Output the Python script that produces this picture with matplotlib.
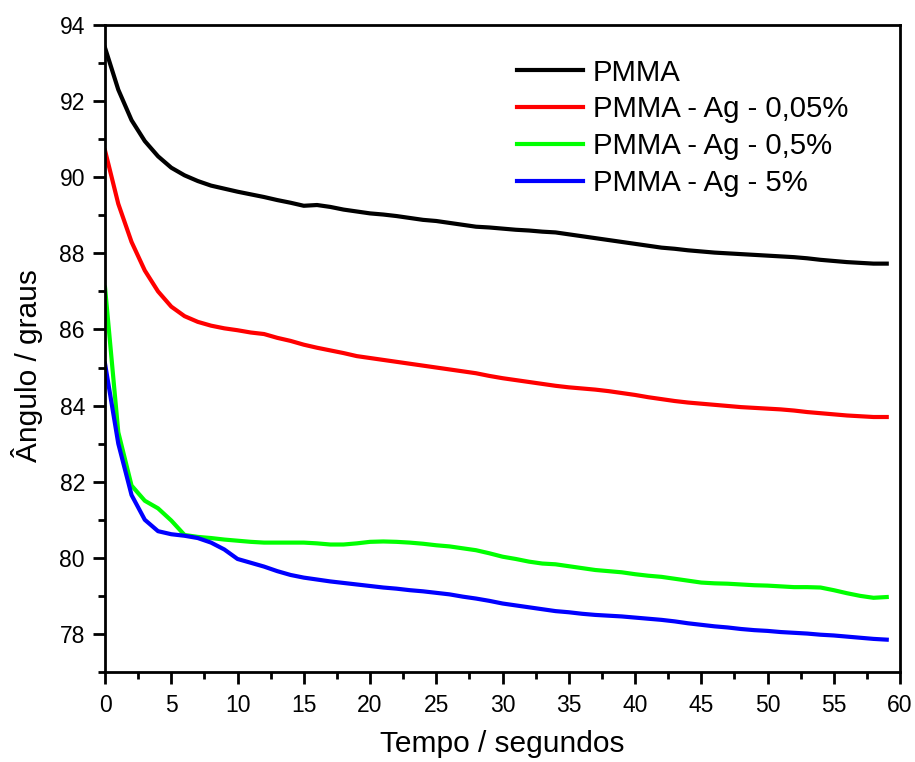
import matplotlib
matplotlib.use("Agg")
import matplotlib.pyplot as plt
from matplotlib.ticker import MultipleLocator
import numpy as np

plt.rcParams['font.family'] = ['Liberation Sans', 'DejaVu Sans']

tempo = np.arange(0, 60)

pmma = [93.4, 92.3, 91.5, 90.95, 90.55, 90.25, 90.05, 89.9, 89.78, 89.7,
        89.62, 89.55, 89.48, 89.4, 89.33, 89.25, 89.27, 89.22, 89.15, 89.1,
        89.05, 89.02, 88.98, 88.93, 88.88, 88.85, 88.8, 88.75, 88.7, 88.68,
        88.65, 88.62, 88.6, 88.57, 88.55, 88.5, 88.45, 88.4, 88.35, 88.3,
        88.25, 88.2, 88.15, 88.12, 88.08, 88.05, 88.02, 88.0, 87.98, 87.96,
        87.94, 87.92, 87.9, 87.87, 87.83, 87.8, 87.77, 87.75, 87.73, 87.73]

ag_005 = [90.7, 89.3, 88.3, 87.55, 87.0, 86.6, 86.35, 86.2, 86.1, 86.03,
          85.98, 85.92, 85.88, 85.78, 85.7, 85.6, 85.52, 85.45, 85.38, 85.3,
          85.25, 85.2, 85.15, 85.1, 85.05, 85.0, 84.95, 84.9, 84.85, 84.78,
          84.72, 84.67, 84.62, 84.57, 84.52, 84.48, 84.45, 84.42, 84.38, 84.33,
          84.28, 84.22, 84.17, 84.12, 84.08, 84.05, 84.02, 83.99, 83.96, 83.94,
          83.92, 83.9, 83.87, 83.83, 83.8, 83.77, 83.74, 83.72, 83.7, 83.7]

ag_05 = [87.1, 83.3, 81.9, 81.5, 81.3, 80.98, 80.6, 80.55, 80.52, 80.48,
         80.45, 80.42, 80.4, 80.4, 80.4, 80.4, 80.38, 80.35, 80.35, 80.38,
         80.42, 80.43, 80.42, 80.4, 80.37, 80.33, 80.3, 80.25, 80.2, 80.12,
         80.03, 79.97, 79.9, 79.85, 79.83, 79.78, 79.73, 79.68, 79.65, 79.62,
         79.57, 79.53, 79.5, 79.45, 79.4, 79.35, 79.33, 79.32, 79.3, 79.28,
         79.27, 79.25, 79.23, 79.23, 79.22, 79.15, 79.07, 79.0, 78.95, 78.97]

ag_5 = [85.1, 83.0, 81.65, 81.0, 80.7, 80.62, 80.58, 80.52, 80.4, 80.22,
        79.97, 79.87, 79.77, 79.65, 79.55, 79.48, 79.43, 79.38, 79.34, 79.3,
        79.26, 79.22, 79.19, 79.15, 79.12, 79.08, 79.04, 78.98, 78.93, 78.87,
        78.8, 78.75, 78.7, 78.65, 78.6, 78.57, 78.53, 78.5, 78.48, 78.46,
        78.43, 78.4, 78.37, 78.33, 78.28, 78.24, 78.2, 78.17, 78.13, 78.1,
        78.08, 78.05, 78.03, 78.01, 77.98, 77.96, 77.93, 77.9, 77.87, 77.85]

series = [(pmma, "PMMA", "black"),
          (ag_005, "PMMA - Ag - 0,05%", "red"),
          (ag_05, "PMMA - Ag - 0,5%", "#00ff00"),
          (ag_5, "PMMA - Ag - 5%", "blue")]

fig = plt.figure(figsize=(9.15, 7.62), dpi=100)
ax = fig.add_axes([0.1148, 0.1181, 0.8688, 0.8491])

for y, lab, col in series:
    ax.plot(tempo, y, color=col, lw=3, label=lab)

ax.set_xlim(0, 60)
ax.set_ylim(77, 94)
ax.xaxis.set_major_locator(MultipleLocator(5))
ax.xaxis.set_minor_locator(MultipleLocator(2.5))
ax.yaxis.set_major_locator(MultipleLocator(2))
ax.yaxis.set_minor_locator(MultipleLocator(1))
ax.tick_params(which='major', direction='out', length=8.5, width=2, labelsize=16.5)
ax.tick_params(which='minor', direction='out', length=5, width=2)
ax.tick_params(axis='x', pad=7)
ax.tick_params(axis='y', pad=6)
for s in ax.spines.values():
    s.set_linewidth(2)

ax.set_xlabel("Tempo / segundos", fontsize=21.5, labelpad=10)
ax.set_ylabel("Ângulo / graus", fontsize=21.5)
ax.yaxis.set_label_coords(-0.078, 0.474)

ax.legend(loc='upper left', bbox_to_anchor=(0.518, 0.948), frameon=False,
          fontsize=21.2, handlelength=2.24, handletextpad=0.34,
          labelspacing=0.30, borderpad=0, borderaxespad=0)

fig.savefig("out.png", dpi=100)
